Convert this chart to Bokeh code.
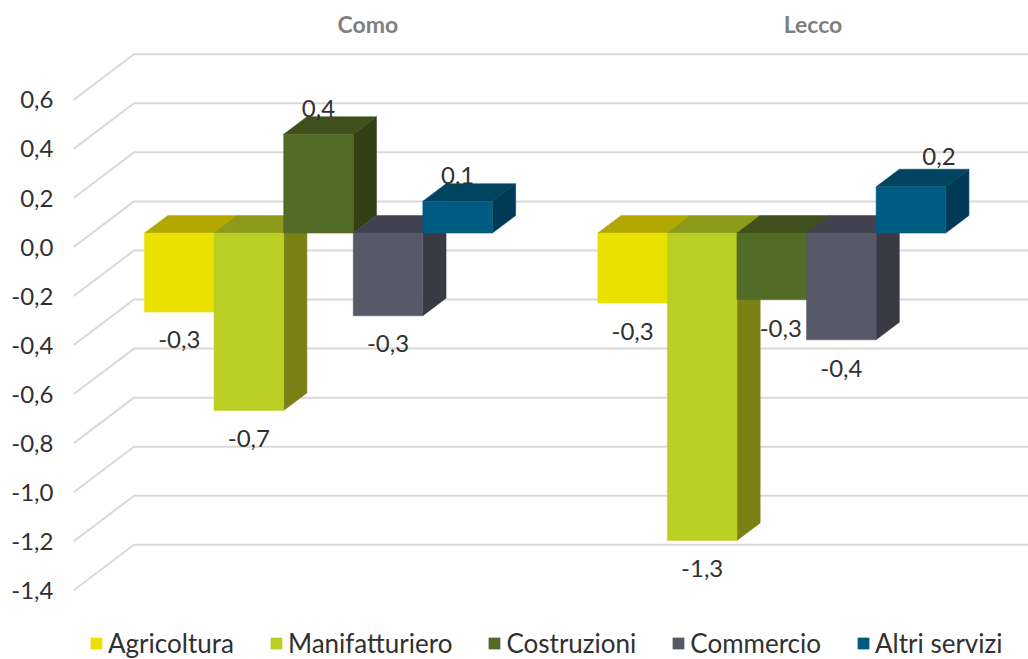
from bokeh.plotting import figure
from bokeh.models import ColumnDataSource, FixedTicker, Legend, LegendItem, CustomJSTickFormatter
from bokeh.core.properties import value
from bokeh.embed import file_html
from bokeh.resources import INLINE

# ---- data ----
areas = ["Como", "Lecco"]
series = ["Agricoltura", "Manifatturiero", "Costruzioni", "Commercio", "Altri servizi"]
agricoltura = [-0.322, -0.285]
manifatturiero = [-0.723, -1.253]
costruzioni = [0.403, -0.271]
commercio = [-0.337, -0.435]
altri_servizi = [0.130, 0.189]
y_ticks = [-1.4, -1.2, -1.0, -0.8, -0.6, -0.4, -0.2, 0.0, 0.2, 0.4, 0.6]

# ---- styles ----
front_col = ["#EAE100", "#BBCE23", "#526B26", "#575868", "#005B82"]
top_col = ["#B3A800", "#8D9A1A", "#3F501D", "#414150", "#004460"]
side_col = ["#9A9200", "#7B8014", "#334016", "#393A44", "#003A56"]
FONT = "Lato"
TXT = "#303030"
GRID = "#D9D9D9"

# ---- layout (data units of the two scales) ----
BAR_W = 0.1535            # one bar's width, with one category = 1
CLUSTER_SHIFT = -0.3846   # left edge of the cluster from the category position
WALL_DX, WALL_DY = 0.1335, 0.1863    # full depth of the chart box
BAR_NEAR, BAR_FAR = 0.306, 0.69      # bars' depth inside the box
title_x = [0.149, 1.131]
label_dy = [[27, 28], [28, 28], [-26, 29], [28, 29], [-26, -30]]
label_dx = [[0, 0], [0, 0], [0, 9], [0, 0], [0, 28]]

p = figure(width=1028, height=659, x_range=(-0.5004, 1.6064), y_range=(-1.6812, 1.0053),
           output_backend="svg", toolbar_location=None, min_border_left=73, min_border_right=0,
           min_border_top=0, min_border_bottom=0, x_axis_location=None, background_fill_color="white",
           border_fill_color="white")
p.outline_line_color = None
p.grid.visible = False

ax = p.yaxis[0]
ax.ticker = FixedTicker(ticks=y_ticks)
ax.axis_line_color = None
ax.major_tick_line_color = None
ax.minor_tick_line_color = None
ax.major_label_text_font = FONT
ax.major_label_text_font_size = "24px"
ax.major_label_text_color = TXT
ax.major_label_standoff = 14
ax.formatter = CustomJSTickFormatter(code="return tick.toFixed(1).replace('.', ',');")

# walls: gridlines
x_left = p.x_range.start
x_right = p.x_range.end
p.multi_line(xs=[[x_left, x_left + WALL_DX, x_right] for _ in y_ticks],
             ys=[[t, t + WALL_DY, t + WALL_DY] for t in y_ticks],
             line_color=GRID, line_width=2)

all_vals = [agricoltura, manifatturiero, costruzioni, commercio, altri_servizi]
items = []
for s, vals in enumerate(all_vals):
    left = [i + CLUSTER_SHIFT + s * BAR_W + BAR_NEAR * WALL_DX for i in range(len(areas))]
    right = [l + BAR_W for l in left]
    hi = [max(v, 0) + BAR_NEAR * WALL_DY for v in vals]
    lo = [min(v, 0) + BAR_NEAR * WALL_DY for v in vals]
    ddx = (BAR_FAR - BAR_NEAR) * WALL_DX
    ddy = (BAR_FAR - BAR_NEAR) * WALL_DY
    p.patches(xs=[[r, r, r + ddx, r + ddx] for r in right],
              ys=[[h, l, l + ddy, h + ddy] for h, l in zip(hi, lo)],
              fill_color=side_col[s], line_color=side_col[s], line_width=0.5)
    p.patches(xs=[[l, r, r + ddx, l + ddx] for l, r in zip(left, right)],
              ys=[[h, h, h + ddy, h + ddy] for h in hi],
              fill_color=top_col[s], line_color=top_col[s], line_width=0.5)
    fr = p.quad(left=left, right=right, top=hi, bottom=lo,
                fill_color=front_col[s], line_color=front_col[s], line_width=0.5)
    items.append(LegendItem(label=series[s], renderers=[fr]))

# data labels
lx, ly, lt, lxo, lyo = [], [], [], [], []
for s, vals in enumerate(all_vals):
    for i, v in enumerate(vals):
        lx.append(i + CLUSTER_SHIFT + (s + 0.5) * BAR_W + BAR_NEAR * WALL_DX)
        ly.append(v + BAR_NEAR * WALL_DY)
        lt.append(f"{v:.1f}".replace(".", ","))
        lxo.append(label_dx[s][i])
        lyo.append(label_dy[s][i])
p.text(x="x", y="y", text="t", x_offset="xo", y_offset="yo",
       source=ColumnDataSource(dict(x=lx, y=ly, t=lt, xo=lxo, yo=lyo)),
       text_font=value(FONT), text_font_size="24px", text_color=TXT,
       text_align="center", text_baseline="middle")

# panel titles
p.text(x=title_x, y=[0.908, 0.908], text=areas, text_font=value(FONT), text_font_size="23px",
       text_font_style="bold", text_color="#7F7F7F", text_align="center", text_baseline="middle")

legend = Legend(items=items, orientation="horizontal", location=(16, 0), margin=0, padding=0,
                border_line_color=None, background_fill_alpha=0, spacing=35, label_standoff=5,
                glyph_width=14, glyph_height=14, label_text_font=FONT, label_text_font_size="26px",
                label_text_color=TXT)
p.add_layout(legend, "center")

open("out.html", "w").write(file_html(p, INLINE))
